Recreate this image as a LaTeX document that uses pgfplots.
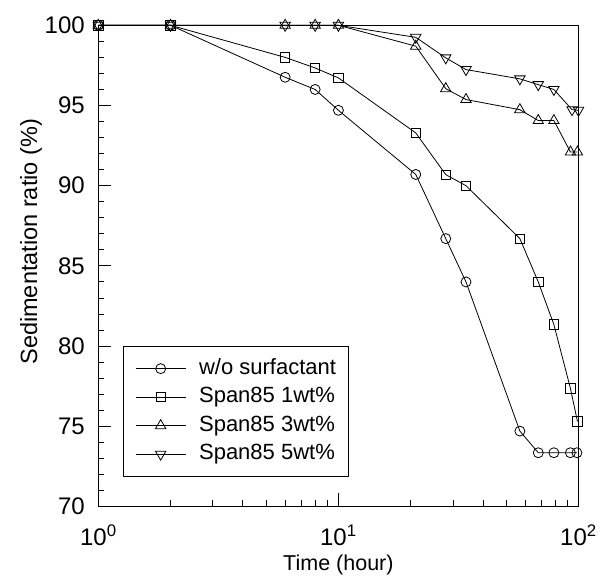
\documentclass[border=0pt]{standalone}
\usepackage{fontspec}
\setmainfont{Liberation Sans}
\usepackage{pgfplots}
\usetikzlibrary{calc}
\pgfplotsset{compat=1.18}
\begin{document}
\begin{tikzpicture}
\begin{axis}[
  xmode=log, log basis x=10,
  width=480pt, height=481pt, scale only axis,
  xmin=1, xmax=100, ymin=70, ymax=100,
  xtick={2,3,4,5,6,7,8,9,20,30,40,50,60,70,80,90},
  xticklabels={},
  ytick=\empty,
  xtick pos=left,
  xtick align=inside,
  major tick length=6pt,
  axis line style={line width=1.3pt},
  xtick style={line width=0.9pt, black},
]
\end{axis}
\begin{axis}[
  xmode=log, log basis x=10,
  width=480pt, height=481pt, scale only axis,
  xmin=1, xmax=100, ymin=70, ymax=100,
  xtick={1,10,100},
  xticklabels={10\textsuperscript{0},10\textsuperscript{1},10\textsuperscript{2}},
  ytick={70,75,80,85,90,95,100},
  minor y tick num=4,
  xtick pos=left, ytick pos=left,
  xtick align=inside, ytick align=inside,
  major tick length=13pt,
  minor tick length=6pt,
  axis line style={line width=1.3pt},
  every tick/.style={line width=0.9pt, black},
  /pgf/number format/assume math mode=true,
  ticklabel style={font=\fontsize{24}{28}\selectfont},
  xticklabel style={yshift=-15pt},
  yticklabel style={xshift=-10pt},
  xlabel={Time (hour)},
  ylabel={Sedimentation ratio (\%)},
  xlabel style={font=\fontsize{21.5}{25}\selectfont, yshift=-2pt},
  ylabel style={font=\fontsize{23.5}{27}\selectfont, at={(ticklabel cs:0.55)}, yshift=-4pt},
  clip=false,
  legend cell align=left,
  legend style={at={(0.051,0.062)}, anchor=south west, draw=black, line width=0.9pt,
     font=\fontsize{22}{26}\selectfont, inner xsep=12pt, inner ysep=12pt, row sep=8.5pt, column sep=13pt,
     nodes={inner sep=0pt, text height=15.5pt, text depth=4.5pt}},
  legend image code/.code={\draw[mark repeat=2,mark phase=2,#1] plot coordinates {(0pt,0pt) (25pt,0pt) (50pt,0pt)};},
  every axis plot/.append style={black, line width=0.8pt, mark options={solid, fill=white, line width=0.8pt}},
]
\coordinate (sw) at (rel axis cs:0,0);
\coordinate (ne) at (rel axis cs:1,1);
\addplot[mark=o, mark size=5pt] coordinates {
(1,100) (2,100) (6,96.76) (8,96.0) (10,94.7) (21,90.7) (28,86.7) (34,84.0) (57,74.7) (68,73.35) (79,73.35) (92.5,73.35) (98.5,73.35)};
\addlegendentry{w/o surfactant}
\addplot[mark=square, mark size=4.7pt] coordinates {
(1,100) (2,100) (6,98.0) (8,97.34) (10,96.72) (21,93.29) (28,90.69) (34,90.0) (57,86.7) (68,84.0) (79,81.34) (92.6,77.35) (99,75.3)};
\addlegendentry{Span85 1wt\%}
\addplot[mark=triangle, mark size=6pt] coordinates {
(1,100) (2,100) (6,100) (8,100) (10,100) (21,98.7) (28,96.05) (34,95.37) (57,94.74) (68,94.06) (79,94.06) (92.6,92.1) (99,92.1)};
\addlegendentry{Span85 3wt\%}
\addplot[mark=triangle, mark size=6pt, mark options={rotate=180}] coordinates {
(1,100) (2,100) (6,100) (8,100) (10,100) (21,99.25) (28,97.97) (34,97.24) (57,96.66) (68,96.3) (79,96.0) (94,94.74) (100,94.7)};
\addlegendentry{Span85 5wt\%}
\end{axis}
\pgfresetboundingbox
\path[use as bounding box] ($(sw)+(-98.3pt,-72.3pt)$) rectangle ($(ne)+(22.5pt,25.3pt)$);
\end{tikzpicture}
\end{document}
